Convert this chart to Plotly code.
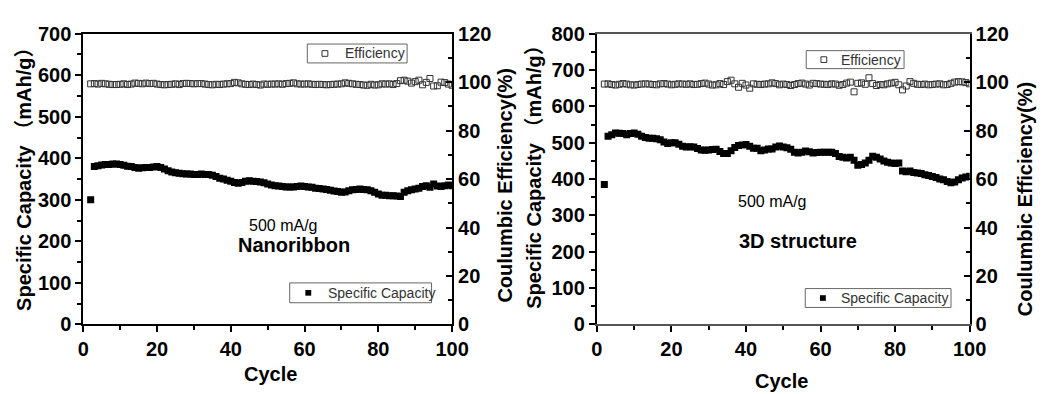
import plotly.graph_objects as go

W, H = 1059, 394

# ---------------- data ----------------
cycles = list(range(2, 101))

# Nanoribbon specific capacity (mAh/g), cycles 2..100
cap_nano = [300, 380, 382, 384, 385, 385, 386, 386, 385, 383,
            381, 380, 378, 376, 377, 378, 378, 379, 380, 378,
            374, 370, 367, 365, 364, 363, 362, 362, 361, 361,
            362, 361, 361, 359, 356, 352, 350, 347, 345, 342,
            340, 342, 345, 346, 345, 344, 343, 341, 338, 336,
            334, 333, 332, 331, 331, 331, 332, 333, 332, 331,
            330, 328, 327, 326, 325, 323, 321, 320, 318, 319,
            322, 324, 325, 326, 325, 324, 322, 318, 314, 311,
            311, 310, 310, 309, 308, 318, 322, 324, 326, 328,
            332, 334, 330, 338, 333, 332, 334, 336, 334]

# Nanoribbon coulombic efficiency (%), cycles 2..100
eff_nano = [99.3, 99.4, 99.2, 99.5, 99.3, 99.1, 99.0, 99.0, 99.1, 99.3,
            99.0, 99.2, 99.6, 99.5, 99.3, 99.6, 99.4, 99.5, 99.2, 99.0,
            98.9, 99.0, 99.1, 99.3, 99.0, 99.4, 99.5, 99.4, 99.3, 99.4,
            99.4, 99.2, 99.0, 98.9, 99.1, 99.0, 99.2, 99.3, 99.4, 99.9,
            99.7, 99.3, 99.1, 99.0, 99.2, 99.0, 98.8, 99.2, 99.1, 99.2,
            99.2, 99.3, 99.1, 99.4, 99.5, 99.7, 99.3, 99.2, 99.2, 99.3,
            99.1, 99.0, 99.1, 99.0, 98.9, 99.0, 99.1, 99.2, 99.3, 99.7,
            99.5, 99.3, 99.1, 99.0, 98.8, 98.7, 99.1, 98.8, 98.9, 99.3,
            99.2, 99.3, 99.0, 99.4, 100.6, 100.8, 100.4, 99.6, 100.2, 100.8,
            98.9, 99.9, 101.5, 98.4, 98.5, 100.0, 99.8, 99.2, 98.7]

# 3D structure specific capacity (mAh/g), cycles 2..100
cap_3d = [385, 518, 522, 527, 526, 525, 522, 525, 527, 523,
          518, 514, 512, 512, 511, 508, 502, 498, 500, 500,
          496, 490, 488, 489, 488, 484, 480, 479, 480, 481,
          482, 476, 470, 470, 478, 487, 492, 494, 495, 490,
          485, 485, 478, 480, 483, 483, 488, 491, 488, 486,
          482, 474, 472, 474, 477, 475, 472, 473, 474, 474,
          474, 474, 470, 462, 460, 458, 460, 452, 438, 440,
          444, 452, 463, 460, 455, 450, 446, 444, 443, 444,
          422, 420, 422, 418, 417, 415, 412, 410, 407, 404,
          400, 398, 393, 390, 392, 398, 403, 406, 408]

# 3D structure coulombic efficiency (%), cycles 2..100
eff_3d = [99.2, 99.3, 99.0, 98.8, 99.1, 99.4, 99.2, 98.9, 98.8, 99.0,
          99.2, 99.3, 99.2, 99.0, 98.9, 99.3, 99.4, 99.2, 98.9, 99.1,
          99.3, 99.2, 99.1, 99.3, 99.0, 99.1, 99.4, 99.6, 99.2, 98.8,
          98.9, 99.4, 99.0, 100.2, 100.8, 99.3, 97.9, 99.5, 98.8, 97.5,
          99.3, 99.1, 99.0, 99.2, 99.3, 99.7, 99.4, 98.9, 99.2, 99.0,
          98.6, 99.0, 99.4, 99.6, 99.2, 98.8, 99.5, 99.4, 99.2, 99.1,
          99.0, 99.3, 99.2, 98.7, 99.0, 99.6, 100.0, 96.0, 99.5, 99.7,
          99.1, 101.8, 99.4, 98.6, 99.0, 98.9, 99.3, 99.6, 99.9, 98.9,
          96.8, 98.4, 100.2, 99.5, 99.1, 99.0, 99.2, 98.9, 99.0, 99.2,
          99.3, 98.9, 99.0, 99.5, 100.0, 100.2, 100.1, 99.8, 99.3]

legend_cap = "Specific Capacity"
legend_eff = "Efficiency"

# ---------------- styling ----------------
FONT = "Liberation Sans, Arial, Noto Sans CJK SC, sans-serif"


def px_x(p):
    return p / W


def px_y(p):
    return 1 - p / H


fig = go.Figure()

cap_marker = dict(symbol="square", size=7, color="black", line=dict(width=0))
eff_marker = dict(symbol="square-open", size=6, color="#333333", line=dict(width=1))

fig.add_trace(go.Scatter(x=cycles, y=cap_nano, mode="markers", name=legend_cap,
                         marker=cap_marker, xaxis="x", yaxis="y", showlegend=False))
fig.add_trace(go.Scatter(x=cycles, y=eff_nano, mode="markers", name=legend_eff,
                         marker=eff_marker, xaxis="x", yaxis="y2", showlegend=False))
fig.add_trace(go.Scatter(x=cycles, y=cap_3d, mode="markers", name=legend_cap,
                         marker=cap_marker, xaxis="x2", yaxis="y3", showlegend=False))
fig.add_trace(go.Scatter(x=cycles, y=eff_3d, mode="markers", name=legend_eff,
                         marker=eff_marker, xaxis="x2", yaxis="y4", showlegend=False))

tickfont = dict(family=FONT, size=20, color="black", weight="bold")


def axis(color="black", lw=2, ticks="outside"):
    return dict(showgrid=False, zeroline=False, showline=True, linecolor=color, linewidth=lw,
                ticks=ticks, ticklen=6, tickwidth=2, tickcolor="black", tickfont=tickfont)


def minor(dt, ticks="outside"):
    return dict(dtick=dt, ticks=ticks, ticklen=4, tickwidth=1.5, tickcolor="black")


yb0, yb1 = px_y(332), px_y(24)

fig.update_layout(
    width=W, height=H, margin=dict(l=0, r=0, t=0, b=0),
    plot_bgcolor="white", paper_bgcolor="white",
    showlegend=False,
    xaxis=dict(domain=[px_x(79), px_x(456)], range=[0, 100], dtick=20, anchor="y", mirror=True,
               minor=minor(10), **axis()),
    yaxis=dict(domain=[yb0, yb1], range=[0, 700], dtick=100, anchor="x",
               minor=minor(50), **axis()),
    yaxis2=dict(range=[0, 120], dtick=20, overlaying="y", side="right", anchor="x",
                minor=minor(10, "inside"), **axis(ticks="inside")),
    xaxis2=dict(domain=[px_x(604), px_x(985)], range=[0, 100], dtick=20, anchor="y3", mirror=True,
                minor=minor(10), **axis(color="#555555", lw=1.5)),
    yaxis3=dict(domain=[yb0, yb1], range=[0, 800], dtick=100, anchor="x2",
                minor=minor(50), **axis()),
    yaxis4=dict(range=[0, 120], dtick=20, overlaying="y3", side="right", anchor="x2",
                minor=minor(10, "inside"), **axis(ticks="inside")),
)

ann = []
shapes = []


def add_text(text, x, y, size, bold=False, angle=0, xanchor="center", color="black"):
    ann.append(dict(text=text, x=px_x(x), y=px_y(y), xref="paper", yref="paper",
                    showarrow=False, textangle=angle, xanchor=xanchor, yanchor="middle",
                    font=dict(family=FONT, size=size, color=color,
                              weight="bold" if bold else "normal")))


def add_legend_box(x0, y0, x1, y1, mx, label, tx, filled):
    shapes.append(dict(type="rect", xref="paper", yref="paper",
                       x0=px_x(x0), x1=px_x(x1), y0=px_y(y1), y1=px_y(y0),
                       line=dict(color="#666666", width=1), fillcolor="white", layer="above"))
    cy = (y0 + y1) / 2
    s = 3
    shapes.append(dict(type="rect", xref="paper", yref="paper",
                       x0=px_x(mx - s), x1=px_x(mx + s), y0=px_y(cy + s), y1=px_y(cy - s),
                       line=dict(color="black" if filled else "#333333", width=0 if filled else 1),
                       fillcolor="black" if filled else "rgba(0,0,0,0)", layer="above"))
    add_text(label, tx, cy, 14, xanchor="left", color="#333333")


add_legend_box(308, 35, 410, 55, 326, legend_eff, 344, False)
add_legend_box(290, 288, 435, 309, 309, legend_cap, 327, True)
add_legend_box(818, 42, 918, 61, 836, legend_eff, 852, False)
add_legend_box(817, 294, 966, 314, 835, legend_cap, 852, True)

add_text("500 mA/g", 283, 227, 16)
add_text("Nanoribbon", 294, 248, 20, bold=True)
add_text("500 mA/g", 783, 202, 16)
add_text("3D structure", 810, 244, 20, bold=True)
add_text("Cycle", 270, 384, 20, bold=True)
add_text("Cycle", 793, 392, 20, bold=True)
add_text("Specific Capacity （mAh/g）", 19, 173, 20, bold=True, angle=-90)
add_text("Coulumbic Efficiency(%)", 510, 185, 20, bold=True, angle=-90)
add_text("Specific Capacity （mAh/g）", 540, 171, 20, bold=True, angle=-90)
add_text("Coulumbic Efficiency(%)", 1042, 199, 20, bold=True, angle=-90)

fig.update_layout(annotations=ann, shapes=shapes)

fig.write_html("out.html")
